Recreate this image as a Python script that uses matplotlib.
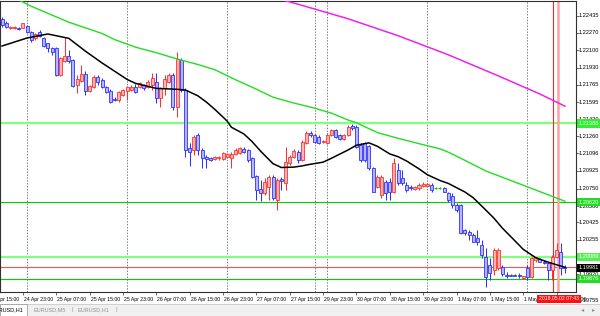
import matplotlib
matplotlib.use("Agg")
import matplotlib.pyplot as plt
from matplotlib.patches import Rectangle
from matplotlib.transforms import blended_transform_factory, offset_copy

plt.rcParams['font.family'] = ['Liberation Sans', 'DejaVu Sans']

# EURUSD H1 candles, oldest first
opens = [1.22400, 1.22367, 1.22313, 1.22313, 1.22318, 1.22318, 1.22335, 1.22280, 1.22215, 1.22280,
         1.22215, 1.22167, 1.22124, 1.22124, 1.21858, 1.21997, 1.22043, 1.22004, 1.21761, 1.21803,
         1.21868, 1.21706, 1.21739, 1.21842, 1.21810, 1.21739, 1.21706, 1.21625, 1.21615, 1.21664,
         1.21706, 1.21712, 1.21744, 1.21739, 1.21761, 1.21744, 1.21761, 1.21793, 1.21632, 1.21729,
         1.21793, 1.21858, 1.21550, 1.22004, 1.21712, 1.21145, 1.21129, 1.21274, 1.21129, 1.21060,
         1.21048, 1.21041, 1.21048, 1.21041, 1.21060, 1.21048, 1.21090, 1.21102, 1.21138, 1.21129,
         1.21048, 1.20876, 1.20746, 1.20707, 1.20771, 1.20869, 1.20642, 1.20846, 1.20805, 1.20999,
         1.21058, 1.21112, 1.21031, 1.21194, 1.21297, 1.21274, 1.21258, 1.21203, 1.21194, 1.21274,
         1.21323, 1.21274, 1.21233, 1.21274, 1.21362, 1.21355, 1.21177, 1.21194, 1.21167, 1.20950,
         1.20771, 1.20691, 1.20820, 1.20820, 1.20723, 1.20934, 1.20853, 1.20788, 1.20771, 1.20746,
         1.20756, 1.20783, 1.20778, 1.20788, 1.20756, 1.20756, 1.20756, 1.20707, 1.20681, 1.20593,
         1.20593, 1.20350, 1.20334, 1.20301, 1.20269, 1.20204, 1.20090, 1.20010, 1.19961, 1.19980,
         1.19990, 1.19909, 1.19917, 1.19917, 1.19909, 1.19886, 1.19977, 1.19896, 1.20058, 1.20068,
         1.20042, 1.20026, 1.19961, 1.20090, 1.20139, 1.19993]
highs = [1.22426, 1.22384, 1.22330, 1.22330, 1.22325, 1.22367, 1.22345, 1.22286, 1.22267, 1.22296,
         1.22228, 1.22170, 1.22134, 1.22131, 1.22036, 1.22225, 1.22102, 1.22014, 1.21858, 1.21956,
         1.21900, 1.21761, 1.21858, 1.21858, 1.21829, 1.21751, 1.21722, 1.21644, 1.21703, 1.21722,
         1.21751, 1.21756, 1.21771, 1.21790, 1.21771, 1.21810, 1.21875, 1.21878, 1.21744, 1.21858,
         1.21875, 1.21875, 1.22085, 1.22021, 1.21729, 1.21194, 1.21274, 1.21291, 1.21145, 1.21080,
         1.21060, 1.21070, 1.21070, 1.21109, 1.21099, 1.21109, 1.21148, 1.21158, 1.21161, 1.21138,
         1.21060, 1.20885, 1.20837, 1.20853, 1.20885, 1.20885, 1.20856, 1.20869, 1.21161, 1.21080,
         1.21138, 1.21129, 1.21226, 1.21313, 1.21316, 1.21284, 1.21274, 1.21226, 1.21291, 1.21333,
         1.21333, 1.21284, 1.21284, 1.21372, 1.21382, 1.21372, 1.21197, 1.21206, 1.21177, 1.20963,
         1.20885, 1.20885, 1.20837, 1.20853, 1.21048, 1.20999, 1.20934, 1.20820, 1.20788, 1.20783,
         1.20807, 1.20820, 1.20807, 1.20805, 1.20764, 1.20764, 1.20764, 1.20720, 1.20707, 1.20610,
         1.20603, 1.20360, 1.20350, 1.20321, 1.20350, 1.20253, 1.20175, 1.20078, 1.20175, 1.20175,
         1.20010, 1.19941, 1.19922, 1.19922, 1.19932, 1.19907, 1.20010, 1.20087, 1.20090, 1.20078,
         1.20058, 1.20042, 1.20107, 1.20221, 1.20221, 1.20010]
lows = [1.22328, 1.22316, 1.22306, 1.22303, 1.22299, 1.22313, 1.22264, 1.22182, 1.22199, 1.22231,
        1.22131, 1.22085, 1.22053, 1.21849, 1.21849, 1.21988, 1.21972, 1.21742, 1.21686, 1.21793,
        1.21664, 1.21693, 1.21729, 1.21761, 1.21732, 1.21683, 1.21586, 1.21605, 1.21596, 1.21654,
        1.21615, 1.21703, 1.21683, 1.21732, 1.21717, 1.21732, 1.21712, 1.21583, 1.21550, 1.21664,
        1.21778, 1.21518, 1.21453, 1.21696, 1.21063, 1.20973, 1.21080, 1.21080, 1.20950, 1.20953,
        1.21022, 1.21031, 1.21036, 1.21031, 1.21051, 1.20953, 1.21080, 1.21090, 1.21102, 1.21012,
        1.20856, 1.20642, 1.20635, 1.20691, 1.20642, 1.20642, 1.20545, 1.20739, 1.20739, 1.20983,
        1.21051, 1.21002, 1.21022, 1.21187, 1.21255, 1.21200, 1.21187, 1.21194, 1.21187, 1.21265,
        1.21250, 1.21226, 1.21226, 1.21265, 1.21323, 1.21148, 1.21012, 1.21012, 1.20934, 1.20720,
        1.20759, 1.20659, 1.20642, 1.20642, 1.20707, 1.20788, 1.20788, 1.20723, 1.20739, 1.20739,
        1.20744, 1.20771, 1.20769, 1.20723, 1.20749, 1.20749, 1.20715, 1.20626, 1.20561, 1.20528,
        1.20311, 1.20301, 1.20253, 1.20229, 1.20204, 1.20078, 1.19796, 1.19864, 1.19912, 1.19961,
        1.19903, 1.19880, 1.19898, 1.19898, 1.19880, 1.19878, 1.19864, 1.19880, 1.20042, 1.20034,
        1.20019, 1.19864, 1.19864, 1.20075, 1.19912, 1.19932]
closes = [1.22345, 1.22328, 1.22322, 1.22322, 1.22306, 1.22361, 1.22274, 1.22199, 1.22254, 1.22238,
          1.22140, 1.22118, 1.22085, 1.21858, 1.22021, 1.22043, 1.21997, 1.21751, 1.21816, 1.21868,
          1.21706, 1.21751, 1.21836, 1.21790, 1.21744, 1.21696, 1.21599, 1.21612, 1.21693, 1.21712,
          1.21739, 1.21744, 1.21696, 1.21778, 1.21729, 1.21790, 1.21826, 1.21635, 1.21729, 1.21816,
          1.21858, 1.21550, 1.22011, 1.21712, 1.21129, 1.21112, 1.21258, 1.21129, 1.21048, 1.21041,
          1.21031, 1.21058, 1.21063, 1.21096, 1.21090, 1.21090, 1.21129, 1.21145, 1.21112, 1.21031,
          1.20869, 1.20739, 1.20707, 1.20820, 1.20869, 1.20659, 1.20837, 1.20827, 1.21015, 1.21063,
          1.21119, 1.21031, 1.21209, 1.21297, 1.21274, 1.21209, 1.21194, 1.21216, 1.21274, 1.21323,
          1.21258, 1.21233, 1.21274, 1.21355, 1.21340, 1.21161, 1.21031, 1.21031, 1.20950, 1.20723,
          1.20869, 1.20869, 1.20707, 1.20723, 1.20999, 1.20805, 1.20805, 1.20739, 1.20756, 1.20771,
          1.20788, 1.20798, 1.20793, 1.20739, 1.20756, 1.20756, 1.20723, 1.20642, 1.20593, 1.20545,
          1.20318, 1.20318, 1.20301, 1.20236, 1.20236, 1.20107, 1.19896, 1.19929, 1.20156, 1.20156,
          1.19922, 1.19898, 1.19907, 1.19907, 1.19898, 1.19903, 1.19896, 1.20075, 1.20083, 1.20042,
          1.20026, 1.19961, 1.20090, 1.20156, 1.19977, 1.19978]

# moving averages (bar index, value)
ma_black_bars = [0, 6, 11, 16, 20, 24, 27, 30, 32, 37, 42, 44, 47, 49, 51, 54, 55, 58, 60, 62,
                 65, 67, 70, 72, 74, 77, 79, 83, 85, 88, 90, 93, 95, 97, 100, 102, 105, 107, 111,
                 113, 116, 118, 120, 123, 125, 128, 130, 132, 135]
ma_black = [1.22140, 1.22218, 1.22257, 1.22215, 1.22090, 1.21975, 1.21895, 1.21815, 1.21777, 1.21728,
            1.21719, 1.21712, 1.21655, 1.21595, 1.21525, 1.21410, 1.21350, 1.21285, 1.21209, 1.21118,
            1.20995, 1.20958, 1.20962, 1.20974, 1.20990, 1.21010, 1.21048, 1.21129, 1.21175, 1.21198,
            1.21165, 1.21090, 1.21063, 1.21022, 1.20945, 1.20888, 1.20832, 1.20804, 1.20720, 1.20664,
            1.20545, 1.20464, 1.20368, 1.20245, 1.20162, 1.20080, 1.20051, 1.20024, 1.19987]
ma_green_bars = [0, 4, 7, 16, 24, 27, 32, 37, 42, 47, 51, 56, 60, 65, 70, 74, 79, 83, 85, 90,
                 95, 100, 105, 107, 111, 116, 126, 135]
ma_green = [1.22672, 1.22588, 1.22527, 1.22372, 1.22262, 1.22203, 1.22129, 1.22075, 1.22014, 1.21960,
            1.21910, 1.21812, 1.21739, 1.21642, 1.21585, 1.21546, 1.21487, 1.21420, 1.21393, 1.21298,
            1.21242, 1.21190, 1.21140, 1.21108, 1.21028, 1.20925, 1.20770, 1.20630]
ma_magenta_bars = [64, 67, 72, 83, 95, 107, 119, 129, 135]
ma_magenta = [1.22637, 1.22592, 1.22535, 1.22405, 1.22240, 1.22055, 1.21850, 1.21673, 1.21555]

# horizontal levels
levels_thick = [1.21388, 1.20089]
levels_thin = [1.20620, 1.19876]
ask_level = 1.19988
bid_price = 1.19981

# vertical lines
separators = [6, 30, 54, 75, 78, 102, 126]
red_vline = 132.2
pink_vline = 133.3
vline_time = '2018.05.02 07:43'

price_ticks = [1.22435, 1.22270, 1.22100, 1.21930, 1.21765, 1.21595, 1.21430, 1.21260, 1.21096,
               1.20925, 1.20750, 1.20580, 1.20425, 1.20255, 1.20085, 1.19920]
bottom_price = 1.19755

date_bars = [-3, 5, 13, 21, 29, 37, 45, 53, 61, 69, 77, 85, 93, 101, 109, 117, 125, 133]
date_labels = ['24 Apr 15:00', '24 Apr 23:00', '25 Apr 07:00', '25 Apr 15:00', '25 Apr 23:00',
               '26 Apr 07:00', '26 Apr 15:00', '26 Apr 23:00', '27 Apr 07:00', '27 Apr 15:00',
               '29 Apr 23:00', '30 Apr 07:00', '30 Apr 15:00', '30 Apr 23:00', '1 May 07:00',
               '1 May 15:00', '1 May 23:00', '2 May 07:00']

tabs = ['EURUSD,H1', 'EURUSD,M5', 'EURUSD,H1']

bull_edge, bull_face = '#ff3030', '#ffb4b4'
bear_edge, bear_face = '#3030ff', '#b4b4ff'
doji_col = '#00cc00'

W, H = 600, 316
fig = plt.figure(figsize=(W / 100, H / 100), dpi=100)
fig.patch.set_facecolor('white')
ax = fig.add_axes([0, 24 / H, 576 / W, 291 / H])
ax.set_xlim(-0.48, 137.65)
ax.set_ylim(1.19747, 1.22578)

for x in separators:
    ax.axvline(x, color='#808080', lw=0.7, ls=(0, (1.5, 1.5)), zorder=1)

for v in levels_thick:
    ax.axhline(v, color='#80ff80', lw=1.6, zorder=2)
for v in levels_thin:
    ax.axhline(v, color='#00d000', lw=0.8, zorder=2)
ax.axhline(ask_level, color='#ff5050', lw=0.8, zorder=2)

ax.axvline(red_vline, color='#ff2020', lw=0.8, zorder=2)
ax.axvline(pink_vline, color='#ffa0a0', lw=1.8, zorder=2)

for i, (o, h, l, c) in enumerate(zip(opens, highs, lows, closes)):
    if c > o:
        edge, face = bull_edge, bull_face
    elif c < o:
        edge, face = bear_edge, bear_face
    else:
        edge = face = doji_col
    ax.vlines(i, l, h, color=edge, lw=0.75, zorder=3)
    if c == o:
        ax.hlines(o, i - 0.36, i + 0.36, color=edge, lw=0.8, zorder=4)
    else:
        ax.add_patch(Rectangle((i - 0.36, min(o, c)), 0.72, abs(c - o),
                               fc=face, ec=edge, lw=0.6, zorder=4))

ax.plot(ma_magenta_bars, ma_magenta, color='#ee22ee', lw=1.1, zorder=5)
ax.plot(ma_green_bars, ma_green, color='#22dd22', lw=1.0, zorder=5)
ax.plot(ma_black_bars, ma_black, color='black', lw=1.1, zorder=5)

for s in ax.spines.values():
    s.set_color('#303030')
    s.set_linewidth(0.8)

# right price scale
ax.yaxis.tick_right()
ax.set_yticks(price_ticks)
ax.set_yticklabels([])
ax.tick_params(axis='y', length=2, width=0.5, color='#303030')
tr = blended_transform_factory(ax.transAxes, ax.transData)
for v in price_ticks:
    ax.text(1.005, v, f'{v:.5f}', transform=tr, fontsize=4.1, va='center', ha='left', clip_on=False)
ax.text(1.005, bottom_price, f'{bottom_price:.5f}', fontsize=4.1, va='center', ha='left',
        transform=offset_copy(tr, fig=fig, y=-9, units='dots'), clip_on=False)

level_boxes = [(levels_thick[0], '#33ee33'), (levels_thin[0], '#22dd22'),
               (levels_thick[1], '#55ee55'), (levels_thin[1], '#22dd22')]
for v, fc in level_boxes:
    ax.text(1.004, v, f'{v:.5f}', transform=tr, fontsize=4.1, color='white', va='center', ha='left',
            bbox=dict(boxstyle='square,pad=0.3', fc=fc, ec='none'), zorder=10, clip_on=False)
ax.text(1.004, bid_price, f'{bid_price:.5f}', transform=tr, fontsize=4.1, color='white', va='center',
        ha='left', bbox=dict(boxstyle='square,pad=0.3', fc='black', ec='none'), zorder=11, clip_on=False)

# time scale
ax.set_xticks([b for b in date_bars if b >= 0])
ax.set_xticklabels([])
ax.tick_params(axis='x', length=2, width=0.5, color='#303030')
tb = offset_copy(blended_transform_factory(ax.transData, ax.transAxes), fig=fig, x=1, y=-7, units='dots')
for b, lab in zip(date_bars, date_labels):
    ax.text(b, 0, lab, transform=tb, fontsize=3.7, va='center', ha='left', clip_on=False, zorder=9)
ax.text(pink_vline, 0, vline_time, transform=tb, fontsize=3.7, color='white', va='center', ha='center',
        bbox=dict(boxstyle='square,pad=0.35', fc='#ff1010', ec='none'), clip_on=False, zorder=12)

# tab bar
fig.patches.append(Rectangle((0, 0), 1, 12 / H, transform=fig.transFigure,
                             fc='#f0f0f0', ec='#c8c8c8', lw=0.6, zorder=0))
fig.patches.append(Rectangle((0, 0), 27 / W, 12 / H, transform=fig.transFigure,
                             fc='white', ec='#a0a0a0', lw=0.6, zorder=1))
fig.text(-8 / W, 6 / H, tabs[0], fontsize=4, va='center', ha='left', color='black')
fig.text(33 / W, 6 / H, tabs[1], fontsize=4, va='center', ha='left', color='#909090')
fig.text(71 / W, 6 / H, '|', fontsize=4.5, va='center', ha='left', color='#a0a0a0')
fig.text(77 / W, 6 / H, tabs[2], fontsize=4, va='center', ha='left', color='#909090')
fig.text(115 / W, 6 / H, '|', fontsize=4.5, va='center', ha='left', color='#a0a0a0')
fig.text(583 / W, 6 / H, '\u25c2', fontsize=4.5, va='center', ha='center', color='#909090')
fig.text(594 / W, 6 / H, '\u25b8', fontsize=4.5, va='center', ha='center', color='#909090')

fig.savefig('out.png', dpi=100, facecolor='white')
